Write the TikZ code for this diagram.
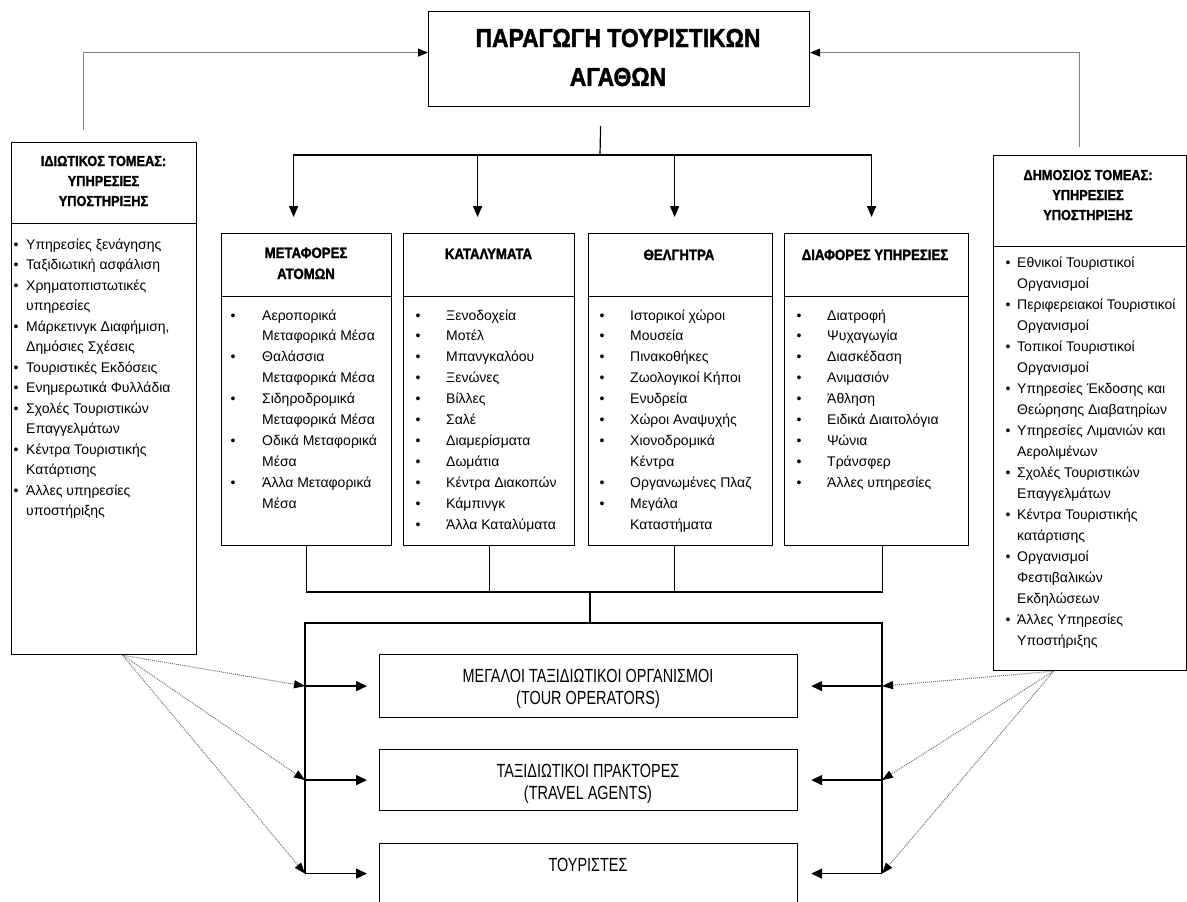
\documentclass[tikz,border=0pt]{standalone}
\usepackage{fontspec}
\setmainfont{Liberation Sans}
\newfontfamily\headfont[FakeStretch=0.88,BoldFeatures={FakeBold=1.6}]{Liberation Sans}
\newfontfamily\narrowfont[FakeStretch=0.76]{Liberation Sans}
\usetikzlibrary{arrows.meta,positioning}

\begin{document}
\begin{tikzpicture}[x=1pt, y=-1pt,
  box/.style={draw, line width=1.2pt, inner sep=0pt, anchor=north west},
  head/.style={inner sep=0pt, anchor=base, font=\headfont\bfseries\fontsize{15}{21}\selectfont},
  sidehead/.style={inner sep=0pt, anchor=base, font=\headfont\bfseries\fontsize{14.5}{20}\selectfont},
  items/.style={inner sep=0pt, anchor=base west, font=\fontsize{14}{#1}\selectfont},
  items/.default=20.9,
  inner/.style={inner sep=0pt, anchor=base, font=\narrowfont\fontsize{19}{22}\selectfont},
  line/.style={line width=1.2pt},
  feed/.style={gray, line width=0.9pt, -{Triangle[length=10pt,width=8pt,color=black]}},
  down/.style={line width=1.3pt, -{Triangle[length=11pt,width=9pt]}, shorten >=16pt},
  push/.style={line width=1.5pt, -{Triangle[length=11pt,width=10pt]}},
  dots/.style={black!55, densely dotted, line width=1pt, -{Triangle[length=11pt,width=8pt,color=black]}}
]
\useasboundingbox (0,0) rectangle (1187,902);

% -------- Titlos --------
\node[box, minimum width=381pt, minimum height=95pt] (title) at (428,11) {};
\node[inner sep=0pt, anchor=base, font=\headfont\bfseries\fontsize{26}{39}\selectfont] (titletxt) at (618,47)
  {\begin{tabular}[t]{@{}c@{}}ΠΑΡΑΓΩΓΗ ΤΟΥΡΙΣΤΙΚΩΝ\\ΑΓΑΘΩΝ\end{tabular}};

% -------- Idiotikos tomeas (aristera) --------
\node[box, minimum width=185pt, minimum height=81pt] (privhead) at (11,142) {};
\node[box, minimum width=185pt, minimum height=431pt] (privbody) at (11,223) {};
\node[sidehead] (privtitle) at (103.5,166)
  {\begin{tabular}[t]{@{}c@{}}ΙΔΙΩΤΙΚΟΣ ΤΟΜΕΑΣ:\\ΥΠΗΡΕΣΙΕΣ\\ΥΠΟΣΤΗΡΙΞΗΣ\end{tabular}};
\node[items=20.5] (privlist) at (13.5,249)
  {\begin{tabular}[t]{@{}p{12.5pt}@{}l@{}}
  • & Υπηρεσίες ξενάγησης\\
  • & Ταξιδιωτική ασφάλιση\\
  • & Χρηματοπιστωτικές\\
    & υπηρεσίες\\
  • & Μάρκετινγκ Διαφήμιση,\\
    & Δημόσιες Σχέσεις\\
  • & Τουριστικές Εκδόσεις\\
  • & Ενημερωτικά Φυλλάδια\\
  • & Σχολές Τουριστικών\\
    & Επαγγελμάτων\\
  • & Κέντρα Τουριστικής\\
    & Κατάρτισης\\
  • & Άλλες υπηρεσίες\\
    & υποστήριξης
  \end{tabular}};

% -------- Dimosios tomeas (dexia) --------
\node[box, minimum width=193pt, minimum height=91pt] (pubhead) at (993,155) {};
\node[box, minimum width=193pt, minimum height=424pt] (pubbody) at (993,246) {};
\node[sidehead] (pubtitle) at (1088,180)
  {\begin{tabular}[t]{@{}c@{}}ΔΗΜΟΣΙΟΣ ΤΟΜΕΑΣ:\\ΥΠΗΡΕΣΙΕΣ\\ΥΠΟΣΤΗΡΙΞΗΣ\end{tabular}};
\node[items=21] (publist) at (1005.5,267)
  {\begin{tabular}[t]{@{}p{11.5pt}@{}l@{}}
  • & Εθνικοί Τουριστικοί\\
    & Οργανισμοί\\
  • & Περιφερειακοί Τουριστικοί\\
    & Οργανισμοί\\
  • & Τοπικοί Τουριστικοί\\
    & Οργανισμοί\\
  • & Υπηρεσίες Έκδοσης και\\
    & Θεώρησης Διαβατηρίων\\
  • & Υπηρεσίες Λιμανιών και\\
    & Αερολιμένων\\
  • & Σχολές Τουριστικών\\
    & Επαγγελμάτων\\
  • & Κέντρα Τουριστικής\\
    & κατάρτισης\\
  • & Οργανισμοί\\
    & Φεστιβαλικών\\
    & Εκδηλώσεων\\
  • & Άλλες Υπηρεσίες\\
    & Υποστήριξης
  \end{tabular}};

% -------- Kentrika koutia --------
\node[box, minimum width=170pt, minimum height=63pt] (h1) at (221,233) {};
\node[box, minimum width=170pt, minimum height=249pt] (b1) at (221,296) {};
\node[box, minimum width=171pt, minimum height=63pt] (h2) at (403,233) {};
\node[box, minimum width=171pt, minimum height=249pt] (b2) at (403,296) {};
\node[box, minimum width=184pt, minimum height=63pt] (h3) at (588,233) {};
\node[box, minimum width=184pt, minimum height=249pt] (b3) at (588,296) {};
\node[box, minimum width=184pt, minimum height=63pt] (h4) at (784,233) {};
\node[box, minimum width=184pt, minimum height=249pt] (b4) at (784,296) {};

\node[head] (t1) at (306,258) {\begin{tabular}[t]{@{}c@{}}ΜΕΤΑΦΟΡΕΣ\\ΑΤΟΜΩΝ\end{tabular}};
\node[head] (t2) at (488.5,259) {ΚΑΤΑΛΥΜΑΤΑ};
\node[head] (t3) at (679,260) {ΘΕΛΓΗΤΡΑ};
\node[head] (t4) at (875,260) {ΔΙΑΦΟΡΕΣ ΥΠΗΡΕΣΙΕΣ};

\node[items] (l1) at (230.5,320)
  {\begin{tabular}[t]{@{}p{31.5pt}@{}l@{}}
  • & Αεροπορικά\\
    & Μεταφορικά Μέσα\\
  • & Θαλάσσια\\
    & Μεταφορικά Μέσα\\
  • & Σιδηροδρομικά\\
    & Μεταφορικά Μέσα\\
  • & Οδικά Μεταφορικά\\
    & Μέσα\\
  • & Άλλα Μεταφορικά\\
    & Μέσα
  \end{tabular}};
\node[items] (l2) at (415.5,320)
  {\begin{tabular}[t]{@{}p{30.5pt}@{}l@{}}
  • & Ξενοδοχεία\\
  • & Μοτέλ\\
  • & Μπανγκαλόου\\
  • & Ξενώνες\\
  • & Βίλλες\\
  • & Σαλέ\\
  • & Διαμερίσματα\\
  • & Δωμάτια\\
  • & Κέντρα Διακοπών\\
  • & Κάμπινγκ\\
  • & Άλλα Καταλύματα
  \end{tabular}};
\node[items] (l3) at (599.5,320)
  {\begin{tabular}[t]{@{}p{30.5pt}@{}l@{}}
  • & Ιστορικοί χώροι\\
  • & Μουσεία\\
  • & Πινακοθήκες\\
  • & Ζωολογικοί Κήποι\\
  • & Ενυδρεία\\
  • & Χώροι Αναψυχής\\
  • & Χιονοδρομικά\\
    & Κέντρα\\
  • & Οργανωμένες Πλαζ\\
  • & Μεγάλα\\
    & Καταστήματα
  \end{tabular}};
\node[items] (l4) at (796.5,320)
  {\begin{tabular}[t]{@{}p{30.5pt}@{}l@{}}
  • & Διατροφή\\
  • & Ψυχαγωγία\\
  • & Διασκέδαση\\
  • & Ανιμασιόν\\
  • & Άθληση\\
  • & Ειδικά Διαιτολόγια\\
  • & Ψώνια\\
  • & Τράνσφερ\\
  • & Άλλες υπηρεσίες
  \end{tabular}};

% -------- Kato koutia --------
\node[box, minimum width=418pt, minimum height=63pt] (tour) at (379,654) {};
\node[box, minimum width=418pt, minimum height=61pt] (agent) at (379,749) {};
\node[box, minimum width=418pt, minimum height=60pt] (tourist) at (379,843) {};
\node[inner] (tourtxt) at (588,682)
  {\begin{tabular}[t]{@{}c@{}}ΜΕΓΑΛΟΙ ΤΑΞΙΔΙΩΤΙΚΟΙ ΟΡΓΑΝΙΣΜΟΙ\\(TOUR OPERATORS)\end{tabular}};
\node[inner] (agenttxt) at (588,777)
  {\begin{tabular}[t]{@{}c@{}}ΤΑΞΙΔΙΩΤΙΚΟΙ ΠΡΑΚΤΟΡΕΣ\\(TRAVEL AGENTS)\end{tabular}};
\node[inner] (touristtxt) at (588,871) {ΤΟΥΡΙΣΤΕΣ};

% Syndeseis pros ton titlo
\draw[feed] ([xshift=-20.5pt,yshift=12pt]privhead.north) |- ([yshift=6.5pt]title.west);
\draw[feed] ([xshift=-10.5pt,yshift=8pt]pubhead.north) |- ([yshift=6.5pt]title.east);

% Diaklados pros ta kentrika koutia
\coordinate (hub) at (600,155);
\draw[line] ([xshift=-18.5pt,yshift=-19pt]title.south) -- (hub);
\draw[down] (hub) -| ([xshift=-13pt]h1.north);
\draw[down] (hub) -| ([xshift=-11.5pt]h2.north);
\draw[down] (hub) -| ([xshift=-6pt]h3.north);
\draw[down] (hub) -| ([xshift=-5pt]h4.north);

% Syllogi kato
\coordinate (bus) at (590,592);
\coordinate (ftop) at (590,623);
\coordinate (fl) at (305,873);
\coordinate (fr) at (882,873);
\draw[line] (b1.south) |- (bus);
\draw[line] (b2.south) |- (bus);
\draw[line] ([xshift=-6pt]b3.south) |- (bus);
\draw[line] ([xshift=6pt]b4.south) |- (bus);
\draw[line] (bus) -- (ftop);
\draw[line] (fl) |- (ftop) -| (fr);

% Velh pros ta kato koutia
\draw[push, shorten >=12pt] (tour.west -| fl) -- (tour.west);
\draw[push, shorten >=12pt] (agent.west -| fl) -- (agent.west);
\draw[push, shorten >=12pt] (tourist.west -| fl) -- (tourist.west);
\draw[push, shorten >=13pt] (tour.east -| fr) -- (tour.east);
\draw[push, shorten >=13pt] (agent.east -| fr) -- (agent.east);
\draw[push, shorten >=13pt] (tourist.east -| fr) -- (tourist.east);

% Diakekommenes grammes apo tous tomeis
\draw[dots] ([xshift=18.5pt]privbody.south) -- (tour.west -| fl);
\draw[dots] ([xshift=18.5pt]privbody.south) -- (agent.west -| fl);
\draw[dots] ([xshift=18.5pt]privbody.south) -- (tourist.west -| fl);
\draw[dots] ([xshift=-36.5pt]pubbody.south) -- (tour.east -| fr);
\draw[dots] ([xshift=-36.5pt]pubbody.south) -- (agent.east -| fr);
\draw[dots] ([xshift=-36.5pt]pubbody.south) -- (tourist.east -| fr);

\end{tikzpicture}
\end{document}
